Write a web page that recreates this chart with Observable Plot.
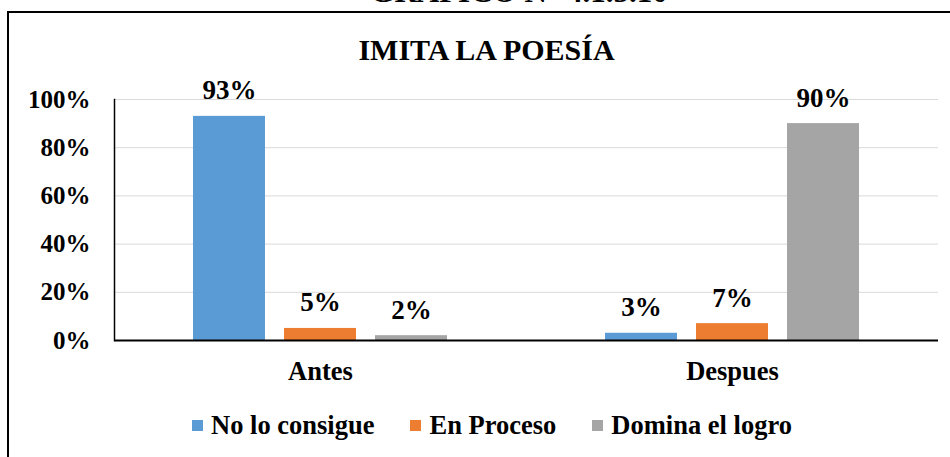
<!DOCTYPE html>
<html>
<head>
<meta charset="utf-8">
<script src="https://cdn.jsdelivr.net/npm/d3@7"></script>
<script src="https://cdn.jsdelivr.net/npm/@observablehq/plot@0.6"></script>
<style>
  html, body { margin: 0; padding: 0; background: #fff; }
  #wrap { position: relative; width: 950px; height: 457px; overflow: hidden; font-family: "Liberation Serif", "DejaVu Serif", serif; font-weight: bold; color: #000; }
  #frame { position: absolute; left: 7px; top: 11px; width: 1000px; height: 600px; border-left: 2px solid #000; border-top: 2px solid #000; }
  #head { position: absolute; left: 0; width: 1038px; top: -23px; text-align: center; font-size: 31px; line-height: 30px; white-space: nowrap; }
  #title { position: absolute; left: 0; width: 973px; top: 35px; text-align: center; font-size: 30px; line-height: 30px; }
  #chart { position: absolute; left: 0; top: 0; }
  #legend { position: absolute; left: 0; width: 984px; top: 410px; display: flex; justify-content: center; gap: 36px; font-size: 26.5px; line-height: 30px; white-space: nowrap; }
  .item { display: inline-block; }
  .sw { display: inline-block; width: 11px; height: 11px; margin-right: 8px; vertical-align: 3px; }
  #chart svg text { font-family: "Liberation Serif", "DejaVu Serif", serif; }
</style>
</head>
<body>
<div id="wrap">
  <div id="head">GRÁFICO N° 4.1.5.10</div>
  <div id="frame"></div>
  <div id="title">IMITA LA POESÍA</div>
  <div id="chart"></div>
  <div id="legend"></div>
</div>
<script>
const periods = ["Antes", "Despues"];
const series = ["No lo consigue", "En Proceso", "Domina el logro"];
const colors = ["#5B9BD5", "#ED7D31", "#A5A5A5"];
const antesValues = [0.93, 0.05, 0.02];
const despuesValues = [0.03, 0.07, 0.90];
const yTicks = [0, 0.2, 0.4, 0.6, 0.8, 1.0];

const data = [];
series.forEach((s, i) => {
  data.push({period: periods[0], series: s, value: antesValues[i]});
  data.push({period: periods[1], series: s, value: despuesValues[i]});
});

const pct = v => Math.round(v * 100) + "%";

const chart = Plot.plot({
  width: 950,
  height: 390,
  marginLeft: 114,
  marginRight: 12,
  marginTop: 99,
  marginBottom: 50,
  style: { fontFamily: "Liberation Serif, DejaVu Serif, serif", fontWeight: "bold", fontSize: "25px", background: "transparent", color: "#000" },
  fx: { domain: periods, padding: 0, label: null },
  x: { domain: series, paddingInner: 0.209, paddingOuter: 0.868, axis: null },
  y: { domain: [0, 1], label: null },
  color: { domain: series, range: colors },
  marks: [
    Plot.gridY(yTicks, { stroke: "#d9d9d9", strokeOpacity: 1, strokeWidth: 1 }),
    Plot.barY(data, { fx: "period", x: "series", y: "value", fill: "series" }),
    Plot.text(data, { fx: "period", x: "series", y: "value", text: d => pct(d.value), lineAnchor: "bottom", dy: -17, fontSize: 27, fontWeight: "bold", fill: "#000" }),
    Plot.ruleY([0], { stroke: "#000", strokeWidth: 2 }),
    Plot.frame({ anchor: "left", facetAnchor: "left", stroke: "#000", strokeWidth: 1.5 }),
    Plot.axisY(yTicks, { tickSize: 0, tickPadding: 24, tickFormat: pct, label: null, fontSize: 25, fontWeight: "bold" }),
    Plot.axisFx({ anchor: "bottom", tickSize: 0, tickPadding: 21, label: null, fontSize: 26.5, fontWeight: "bold" })
  ]
});
document.getElementById("chart").appendChild(chart);

const legend = document.getElementById("legend");
series.forEach((s, i) => {
  const item = document.createElement("span");
  item.className = "item";
  const sw = document.createElement("span");
  sw.className = "sw";
  sw.style.background = colors[i];
  item.appendChild(sw);
  item.appendChild(document.createTextNode(s));
  legend.appendChild(item);
});
</script>
</body>
</html>
